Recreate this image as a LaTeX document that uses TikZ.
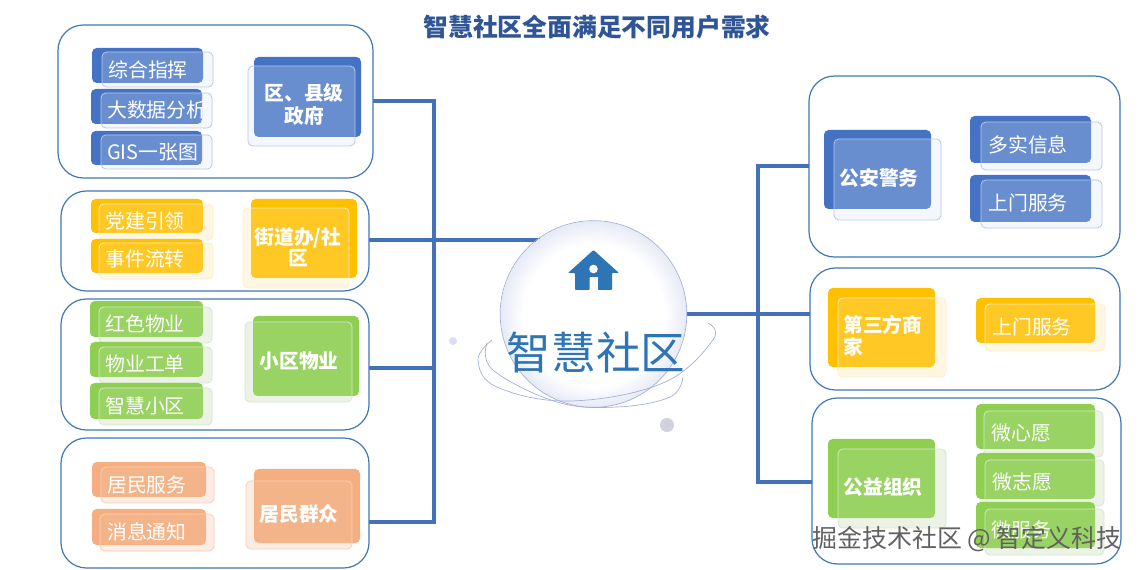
\documentclass[tikz,border=0pt]{standalone}
\usepackage{fontspec}
\setmainfont{Noto Sans CJK SC}
\usetikzlibrary{calc}
\definecolor{blueback}{HTML}{4472C4}\definecolor{bluepale}{HTML}{F2F6FB}\definecolor{blueedge}{HTML}{B9C7E4}
\definecolor{yellowback}{HTML}{FFC000}\definecolor{yellowpale}{HTML}{FFF6DF}\definecolor{yellowedge}{HTML}{FFEFC4}
\definecolor{greenback}{HTML}{8ECF52}\definecolor{greenpale}{HTML}{EAF2E4}\definecolor{greenedge}{HTML}{D6E6CC}
\definecolor{orangeback}{HTML}{F4AE7F}\definecolor{orangepale}{HTML}{FDEBE0}\definecolor{orangeedge}{HTML}{F8CFB8}
\definecolor{panelline}{HTML}{3F78B4}
\definecolor{linkblue}{HTML}{4472B8}
\definecolor{homeblue}{HTML}{2E75B6}
\definecolor{titleblue}{HTML}{2F5597}
\definecolor{ballrim}{HTML}{E6EAF6}
\definecolor{orbit}{HTML}{A3AED6}
\pgfdeclareradialshading{ballshade}{\pgfpoint{0bp}{-2bp}}{color(0bp)=(white);color(19bp)=(white);color(25bp)=(ballrim)}
\tikzset{
  panel/.style={draw=panelline,line width=0.9pt,rounded corners=19pt,fill=white,inner sep=0pt,outer sep=0pt},
  cardshape/.style={rectangle,rounded corners=3.5pt,inner sep=0pt,outer sep=0pt},
  link/.style={draw=linkblue,line width=2.6pt},
  smalllabel/.style={text=white,font=\fontsize{14.9}{17}\selectfont,anchor=west,inner sep=0pt},
  biglabel/.style={text=white,font=\fontsize{14.8}{#1}\selectfont\bfseries,inner sep=0pt},
  biglabel/.default=17,
  orbitline/.style={draw=orbit,line width=0.5pt},
  dotmark/.style={circle,inner sep=0pt},
  bluealpha/.style={fill opacity=0.2},
  yellowalpha/.style={fill opacity=0.14},
  greenalpha/.style={fill opacity=0.1},
  orangealpha/.style={fill opacity=0.08}
}
\makeatletter
\def\boxA#1,#2,#3,#4;{\def\ax{#1}\def\ay{#2}\def\ab{#3}\def\ac{#4}}
\def\boxB#1,#2,#3,#4;{\def\bx{#1}\def\by{#2}\def\bb{#3}\def\bc{#4}}
\newcommand{\placebox}[5]{%
  \node[cardshape,#1,minimum width={(#4-#2)*0.75pt},minimum height={(#5-#3)*0.75pt}] at ({(#2+#4)/2},{(#3+#5)/2})}
\newcommand{\cardbox}[4]{%
  \boxA#3;\boxB#4;%
  \placebox{fill=#2pale}{\bx}{\by}{\bb}{\bc} (#1-p) {};
  \placebox{fill=#2back}{\ax}{\ay}{\ab}{\ac} (#1-b) {};
  \placebox{fill=white,#2alpha,draw=#2edge,line width=0.6pt,draw opacity=1}{\bx}{\by}{\bb}{\bc} (#1-f) {};
}
\makeatother
\begin{document}
\begin{tikzpicture}[x=0.75pt,y=-0.75pt]
\useasboundingbox (0,0) rectangle (1140,570);
\fill[white] (0,0) rectangle (1140,570);

\node[text=titleblue,font=\fontsize{18.6}{22}\selectfont\bfseries,inner sep=0pt] (title) at (597,27) {智慧社区全面满足不同用户需求};

% junctions
\coordinate (jl1) at (434,101);
\coordinate (jl2) at (434,240);
\coordinate (jl3) at (434,368);
\coordinate (jl4) at (434,522);
\coordinate (hubin) at (543,240);
\coordinate (jr1) at (758,166);
\coordinate (jr2) at (758,314);
\coordinate (jr3) at (758,482);
\coordinate (hubout) at (687,314);

% panels
\placebox{panel}{58}{25}{373}{178} (p1) {};
\placebox{panel}{61}{191}{369}{291} (p2) {};
\placebox{panel}{61}{299}{369}{430} (p3) {};
\placebox{panel}{61}{438}{369}{568} (p4) {};
\placebox{panel}{809}{76}{1120}{257} (r1) {};
\placebox{panel}{810}{268}{1120}{390} (r2) {};
\placebox{panel}{812}{398}{1121}{564} (r3) {};

% left connectors
\draw[link] (p1.east |- jl1) -- (jl1);
\draw[link] (p2.east |- jl2) -- (hubin);
\draw[link] (p3.east |- jl3) -- (jl3);
\draw[link] (p4.east |- jl4) -- (jl4);
\draw[link,line cap=rect] (jl1) -- (jl4);
% right connectors
\draw[link] (jr1) -- (r1.west |- jr1);
\draw[link] (hubout) -- (jr2);
\draw[link] (jr2) -- (r2.west |- jr2);
\draw[link] (jr3) -- (r3.west |- jr3);
\draw[link,line cap=rect] (jr1) -- (jr3);

% cards: left
\cardbox{a1}{blue}{92,48,203,83}{102,52,213,87}
\cardbox{a2}{blue}{91,89,202,124}{101,93,212,128}
\cardbox{a3}{blue}{91,131,202,165}{101,135,212,169}
\cardbox{a0}{blue}{254,57,361,137}{248,66,355,146}
\cardbox{b1}{yellow}{91,199,203,233}{99,204,213,240}
\cardbox{b2}{yellow}{91,239,203,273}{99,243,213,279}
\cardbox{b0}{yellow}{251,199,357,278}{243,208,349,288}
\cardbox{c1}{green}{90,301,203,337}{99,307,212,343}
\cardbox{c2}{green}{90,342,203,377}{99,347,212,383}
\cardbox{c3}{green}{90,383,203,419}{99,388,212,425}
\cardbox{c0}{green}{253,316,359,396}{245,322,352,402}
\cardbox{d1}{orange}{92,462,206,497}{101,467,214,503}
\cardbox{d2}{orange}{92,509,206,545}{100,514,214,551}
\cardbox{d0}{orange}{254,469,360,543}{246,481,352,549}
% cards: right
\cardbox{e0}{blue}{824,130,931,209}{834,139,941,220}
\cardbox{e1}{blue}{970,116,1091,163}{981,122,1102,170}
\cardbox{e2}{blue}{970,175,1091,222}{981,180,1102,228}
\cardbox{f0}{yellow}{828,288,935,367}{838,298,946,377}
\cardbox{f1}{yellow}{976,298,1095,343}{985,304,1105,351}
\cardbox{g0}{green}{828,439,935,518}{838,449,946,528}
\cardbox{g1}{green}{976,404,1095,449}{984,411,1103,457}
\cardbox{g2}{green}{976,453,1095,499}{985,460,1104,506}
\cardbox{g3}{green}{976,502,1095,548}{985,509,1104,555}

% labels
\node[smalllabel] (ta1) at (108,70) {综合指挥};
\node[smalllabel] (ta2) at (107,110) {大数据分析};
\node[smalllabel] (ta3) at (107,152) {GIS一张图};
\node[biglabel=17.3,align=center] (ta0) at (304,104.5) {区、县级\\政府};
\node[smalllabel] (tb1) at (105,221) {党建引领};
\node[smalllabel] (tb2) at (105,259) {事件流转};
\node[biglabel=15.5,align=center] (tb0) at (298,247) {街道办/社\\区};
\node[smalllabel] (tc1) at (105,324) {红色物业};
\node[smalllabel] (tc2) at (105,364) {物业工单};
\node[smalllabel] (tc3) at (105,406) {智慧小区};
\node[biglabel] (tc0) at (299,361) {小区物业};
\node[smalllabel] (td1) at (107,485) {居民服务};
\node[smalllabel] (td2) at (107,532) {消息通知};
\node[biglabel] (td0) at (299,514) {居民群众};
\node[biglabel] (te0) at (879,178) {公安警务};
\node[smalllabel] (te1) at (988,145) {多实信息};
\node[smalllabel] (te2) at (988,203) {上门服务};
\node[biglabel=16.5,align=left,anchor=west] (tf0) at (843,336) {第三方商\\家};
\node[smalllabel] (tf1) at (992,327) {上门服务};
\node[biglabel] (tg0) at (883,487) {公益组织};
\node[smalllabel] (tg1) at (991,433) {微心愿};
\node[smalllabel] (tg2) at (992,482) {微志愿};
\node[smalllabel] (tg3) at (991,530) {微服务};

% hub
\node[dotmark,fill=black!4!blue!14!white,minimum size=6pt] (dot1) at (453,341) {};
\node[dotmark,fill=blue!20!gray!30!white,minimum size=10.5pt] (dot2) at (667,425) {};
\node[circle,minimum size=140pt,inner sep=0pt,draw=orbit,line width=0.5pt,shading=ballshade] (hub) at (593.5,314) {};
\draw[orbitline] plot[smooth,tension=0.65] coordinates {(708,323) (713,340) (663,383) (570,401) (497,387) (478,360) (492,340)};
\draw[orbitline] plot[smooth,tension=0.65] coordinates {(487,343) (493,370) (557,402) (617,407) (670,397) (683,377)};
% house
\fill[homeblue,rounded corners=0.6pt] (593.5,250) -- (619,273) -- (612,273) -- (612,290) -- (598,290) -- (598,277) -- (589.5,277) -- (589.5,290) -- (575,290) -- (575,273) -- (568,273) -- cycle;
\fill[white] (593.5,269) circle[radius=4.3];
\fill[white] (589.5,277.5) rectangle (598,290.5);
\node[text=homeblue,font=\fontsize{33.4}{38}\selectfont,inner sep=0pt] (hubtext) at (596,353) {智慧社区};

% watermark
\node[text=black!62,font=\fontsize{18.7}{22}\selectfont,inner sep=0pt] (mark) at (967,539) {掘金技术社区 @ 智定义科技};
\end{tikzpicture}
\end{document}
